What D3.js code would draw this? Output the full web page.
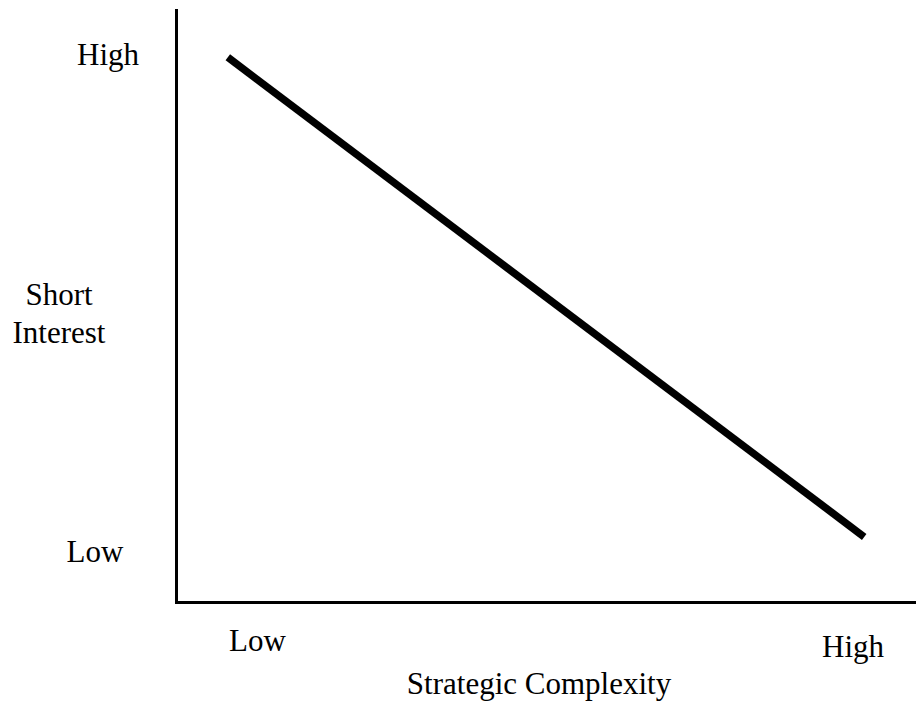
<!DOCTYPE html>
<html>
<head>
<meta charset="utf-8">
<script src="https://cdn.jsdelivr.net/npm/d3@7"></script>
<style>
  body { margin: 0; background: #fff; }
  text { font-family: "Liberation Serif", "Times New Roman", serif; fill: #000; }
</style>
</head>
<body>
<div class="canvas"></div>
<script>
// line endpoints on a 0-100 scale
const complexity = [7, 93];
const shortInterest = [92, 11];

const xTickLabels = ["Low", "High"];
const xTickValues = [11, 91.5];
const yTickLabels = ["Low", "High"];
const yTickValues = [8.5, 92.5];

const xTitle = "Strategic Complexity";
const yTitle = ["Short", "Interest"];

let dims = { width: 916, height: 703 };
let plot = { left: 176, right: 916, top: 10, bottom: 602 };

const svg = d3
    .select(".canvas")
    .append("svg")
    .attr("width", dims.width)
    .attr("height", dims.height);

const x = d3.scaleLinear().domain([0, 100]).range([plot.left, plot.right]);
const y = d3.scaleLinear().domain([0, 100]).range([plot.bottom, plot.top]);

// axes: bare lines, no ticks
const xAxis = svg
    .append("g")
    .attr("transform", `translate(0,${plot.bottom})`)
    .call(d3.axisBottom(x).tickValues([]).tickSizeOuter(0));
const yAxis = svg
    .append("g")
    .attr("transform", `translate(${plot.left},0)`)
    .call(d3.axisLeft(y).tickValues([]).tickSizeOuter(0));

svg.selectAll(".domain")
    .attr("stroke", "#000")
    .attr("stroke-width", 3)
    .attr("stroke-linecap", "square");

// tick labels
const xLabelDrop = [49, 55];
svg.append("g")
    .selectAll("text")
    .data(xTickLabels)
    .enter()
    .append("text")
    .attr("x", (d, i) => x(xTickValues[i]))
    .attr("y", (d, i) => plot.bottom + xLabelDrop[i])
    .attr("text-anchor", "middle")
    .attr("font-size", 31)
    .text((d) => d);

svg.append("g")
    .selectAll("text")
    .data(yTickLabels)
    .enter()
    .append("text")
    .attr("x", (d, i) => (i === 0 ? 95 : 108))
    .attr("y", (d, i) => y(yTickValues[i]))
    .attr("dy", "0.33em")
    .attr("text-anchor", "middle")
    .attr("font-size", 31)
    .text((d) => d);

// titles
svg.append("text")
    .attr("x", 539)
    .attr("y", 694)
    .attr("text-anchor", "middle")
    .attr("font-size", 31)
    .text(xTitle);

svg.append("g")
    .selectAll("text")
    .data(yTitle)
    .enter()
    .append("text")
    .attr("x", 59)
    .attr("y", (d, i) => 305 + i * 38)
    .attr("text-anchor", "middle")
    .attr("font-size", 31)
    .text((d) => d);

// the trend line
const points = complexity.map((c, i) => ({ c: c, s: shortInterest[i] }));
const lineGen = d3
    .line()
    .x((d) => x(d.c))
    .y((d) => y(d.s));

svg.append("path")
    .datum(points)
    .attr("d", lineGen)
    .attr("fill", "none")
    .attr("stroke", "#000")
    .attr("stroke-width", 7.5);
</script>
</body>
</html>
